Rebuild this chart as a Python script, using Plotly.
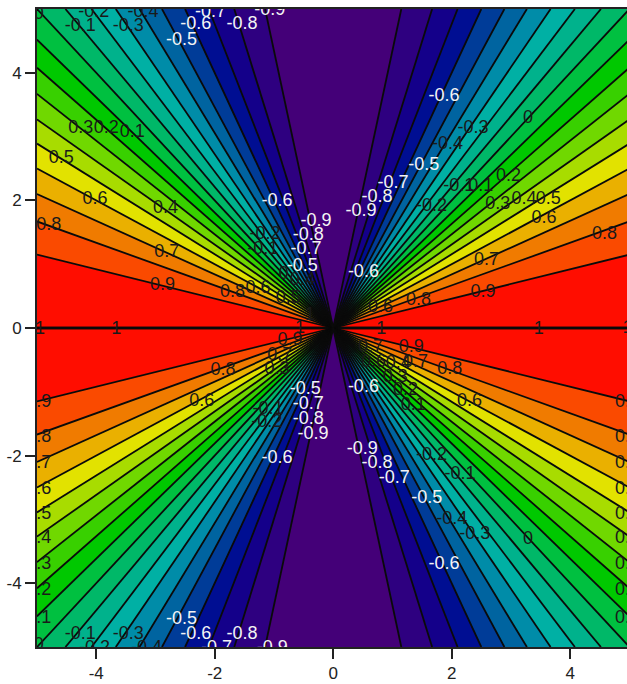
import plotly.graph_objects as go

# contour levels from the red centre band out to the purple one
LEVELS = [1, 0.9, 0.8, 0.7, 0.6, 0.5, 0.4, 0.3, 0.2, 0.1, 0,
          -0.1, -0.2, -0.3, -0.4, -0.5, -0.6, -0.7, -0.8, -0.9, -1]
# where each level leaves the frame
EDGE_X = [5, 5, 5, 5, 5, 5, 5, 5, 5, 5, 5,
          4.52, 4.08, 3.67, 3.27, 2.89, 2.5, 2.1, 1.67, 1.15, 0]
EDGE_Y = [0, 1.15, 1.67, 2.1, 2.5, 2.89, 3.27, 3.67, 4.08, 4.52, 5,
          5, 5, 5, 5, 5, 5, 5, 5, 5, 5]
BAND_COLORS = ["#ff0d00", "#fa4a00", "#f07b00", "#eab000", "#e2e200",
               "#a8dc00", "#70d800", "#38d000", "#00c800", "#00c040",
               "#00b868", "#00b28c", "#00b0a4", "#008ca8", "#0064a0",
               "#003c98", "#000e92", "#14008a", "#2e0080", "#440078"]
TICK_VALS = [-4, -2, 0, 2, 4]
TICK_TEXT = ["-4", "-2", "0", "2", "4"]

DARK_LABELS = [
    ("-0.1", -4.27, 4.76), ("-0.3", -3.46, 4.76), ("-0.2", -4.04, 4.98), ("-0.4", -3.21, 4.98),
    ("0.3", -4.26, 3.15), ("0.2", -3.83, 3.15), ("0.1", -3.39, 3.10), ("0.5", -4.59, 2.68),
    ("0.6", -4.02, 2.04), ("0.4", -2.83, 1.90), ("0.8", -4.80, 1.63), ("0.7", -2.81, 1.22),
    ("0.9", -2.88, 0.69), ("0.8", -1.70, 0.58), ("0.6", -1.27, 0.65), ("-0.2", -1.15, 1.49),
    ("-0.1", -1.19, 1.26), ("0", -0.84, 0.87), ("0.5", -0.76, 0.50), ("0.4", -0.52, 0.78),
    ("1", -0.56, 0.03), ("1", -3.66, 0), ("1", -4.95, 0), ("1", -0.39, 0.23),
    ("-0.3", 2.36, 3.15), ("0", 3.29, 3.31), ("-0.4", 1.93, 2.90), ("-0.2", 1.66, 1.94),
    ("-0.1", 2.12, 2.25), ("0.1", 2.49, 2.25), ("0.2", 2.96, 2.41), ("0.3", 2.78, 1.97),
    ("0.4", 3.22, 2.05), ("0.5", 3.63, 2.05), ("0.6", 3.56, 1.74), ("0.8", 4.58, 1.50),
    ("0.7", 2.59, 1.09), ("0.9", 2.53, 0.58), ("0.8", 1.44, 0.46), ("0.6", 0.80, 0.35),
    ("1", 0.81, 0), ("1", 3.47, 0), ("1", 4.97, 0.03),
    ("0.9", -0.73, -0.16), ("0.8", -1.86, -0.64), ("0.6", -2.22, -1.12), ("0.7", -0.90, -0.40),
    ("0.3", -0.95, -0.62), ("-0.1", -1.10, -1.25), ("-0.2", -1.12, -1.45),
    ("0.9", -4.97, -1.14), ("0.8", -4.97, -1.68), ("0.7", -4.97, -2.09), ("0.6", -4.97, -2.50),
    ("0.5", -4.97, -2.90), ("0.4", -4.97, -3.27), ("0.3", -4.97, -3.67), ("0.2", -4.97, -4.09),
    ("0.1", -4.97, -4.53), ("0", -4.97, -4.95), ("0", -4.97, 4.95),
    ("-0.1", -4.27, -4.77), ("-0.3", -3.46, -4.77), ("-0.2", -4.03, -5.0), ("-0.4", -3.15, -5.0),
    ("0.9", 1.32, -0.28), ("0.7", 1.39, -0.51), ("0.4", 1.10, -0.53), ("0.6", 0.68, -0.51),
    ("0.7", 0.63, -0.28), ("0.8", 1.97, -0.62), ("0.6", 2.30, -1.12), ("0.3", 1.05, -0.75),
    ("0.2", 1.22, -0.95), ("0.1", 1.35, -1.19), ("-0.2", 1.66, -1.97), ("-0.1", 2.14, -2.27),
    ("-0.4", 2.0, -2.97), ("-0.3", 2.39, -3.21), ("0", 3.29, -3.29),
    ("0.9", 4.97, -1.14), ("0.8", 4.97, -1.68), ("0.7", 4.97, -2.09), ("0.6", 4.97, -2.50),
    ("0.5", 4.97, -2.90), ("0.4", 4.97, -3.27), ("0.3", 4.97, -3.67), ("0.2", 4.97, -4.09),
    ("0.1", 4.97, -4.53),
]
LIGHT_LABELS = [
    ("-0.7", -2.07, 4.98), ("-0.9", -1.07, 5.0), ("-0.6", -2.32, 4.78), ("-0.8", -1.54, 4.78),
    ("-0.5", -2.56, 4.53), ("-0.6", -0.95, 2.01), ("-0.9", -0.29, 1.70), ("-0.8", -0.42, 1.48),
    ("-0.7", -0.46, 1.26), ("-0.5", -0.52, 1.00),
    ("-0.6", 1.87, 3.66), ("-0.5", 1.53, 2.58), ("-0.7", 1.01, 2.29), ("-0.8", 0.74, 2.07),
    ("-0.9", 0.47, 1.85), ("-0.6", 0.51, 0.90),
    ("-0.5", -0.47, -0.93), ("-0.7", -0.42, -1.17), ("-0.8", -0.42, -1.40), ("-0.9", -0.34, -1.64),
    ("-0.6", -0.95, -2.01), ("-0.5", -2.56, -4.54), ("-0.6", -2.32, -4.77), ("-0.8", -1.54, -4.77),
    ("-0.7", -1.97, -5.0), ("-0.9", -1.03, -5.0),
    ("-0.6", 0.51, -0.91), ("-0.9", 0.49, -1.87), ("-0.8", 0.74, -2.09), ("-0.7", 1.03, -2.33),
    ("-0.5", 1.58, -2.65), ("-0.6", 1.87, -3.67),
]

QUADRANTS = [(1, 1), (-1, 1), (-1, -1), (1, -1)]

fig = go.Figure()

# one wedge per band, in each of the four quadrants
for i, color in enumerate(BAND_COLORS):
    for sx, sy in QUADRANTS:
        fig.add_trace(go.Scatter(
            x=[0, sx * EDGE_X[i], sx * EDGE_X[i + 1]],
            y=[0, sy * EDGE_Y[i], sy * EDGE_Y[i + 1]],
            mode="lines", line=dict(color=color, width=1), fill="toself", fillcolor=color,
            hoverinfo="skip", showlegend=False,
        ))

# the purple band runs straight across x=0, draw it whole so no seam shows
for sy in [1, -1]:
    fig.add_trace(go.Scatter(
        x=[0, -EDGE_X[-2], EDGE_X[-2]], y=[0, sy * EDGE_Y[-2], sy * EDGE_Y[-2]],
        mode="lines", line=dict(color=BAND_COLORS[-1], width=1), fill="toself",
        fillcolor=BAND_COLORS[-1], hoverinfo="skip", showlegend=False,
    ))

# contour lines, the -1 level has no visible line
for i, level in enumerate(LEVELS[:-1]):
    for sx, sy in QUADRANTS:
        fig.add_trace(go.Scatter(
            x=[0, sx * EDGE_X[i]], y=[0, sy * EDGE_Y[i]], mode="lines",
            line=dict(color="#0a0a0a", width=2.4 if level == 1 else 1.8),
            hoverinfo="skip", showlegend=False,
        ))

# labels sit about 2px high in plotly, nudge them down
for labels, color in [(DARK_LABELS, "#1a1a1a"), (LIGHT_LABELS, "#f4f4f4")]:
    fig.add_trace(go.Scatter(
        x=[l[1] for l in labels], y=[l[2] - 0.03 for l in labels], text=[l[0] for l in labels],
        mode="text", textposition="middle center",
        textfont=dict(family="Liberation Sans", size=18, color=color),
        cliponaxis=True, hoverinfo="skip", showlegend=False,
    ))

axis = dict(showgrid=False, zeroline=False, showline=True, linecolor="#222222", linewidth=2,
            ticks="outside", ticklen=10, tickwidth=2, tickcolor="#222222", mirror=True,
            tickfont=dict(family="Liberation Sans", size=17, color="#222222"),
            tickvals=TICK_VALS, ticktext=TICK_TEXT, automargin=False)
fig.update_layout(
    width=627, height=682, autosize=False, plot_bgcolor="white", paper_bgcolor="white",
    margin=dict(l=37, r=0, t=9, b=35),
    xaxis=dict(axis, range=[-5, 4.96]),
    yaxis=dict(axis, range=[-5, 5]),
)
# drop the page's default margin so the figure fills the window
fig.write_html("out.html", config=dict(displayModeBar=False),
               post_script="document.body.style.margin='0';document.body.style.overflow='hidden';")
